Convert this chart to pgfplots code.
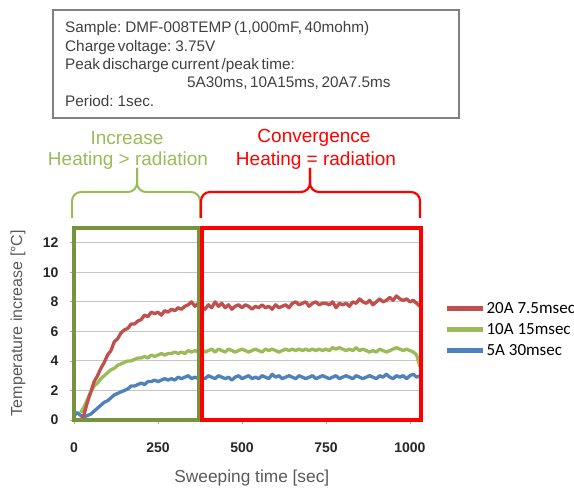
\documentclass[border=0pt]{standalone}
\usepackage{fontspec}
\setmainfont{Liberation Sans}
\newfontfamily\calibri{Carlito}
\newfontfamily\boxfont[WordSpace=0.6]{Liberation Sans}
\usepackage{pgfplots}
\pgfplotsset{compat=1.18}
\definecolor{red20}{HTML}{C0504D}
\definecolor{green10}{HTML}{9BBB59}
\definecolor{blue5}{HTML}{4F81BD}
\definecolor{olive}{HTML}{77933C}
\definecolor{txtgray}{HTML}{404040}
\definecolor{lblgray}{HTML}{595959}
\begin{document}
\begin{tikzpicture}
\useasboundingbox (0,0) rectangle (574pt,492pt);
% info box
\draw[draw=gray, line width=1.2pt] (53pt,374pt) rectangle (459pt,482pt);
\begin{scope}[every node/.style={anchor=base west, inner sep=0pt, text=txtgray, font=\boxfont\fontsize{15.3}{16}\selectfont}]
\node at (65pt,459pt) {Sample: DMF-008TEMP (1,000mF, 40mohm)};
\node at (65pt,440pt) {Charge voltage: 3.75V};
\node at (65pt,422pt) {Peak discharge current /peak time:};
\node at (187pt,404pt) {5A30ms, 10A15ms, 20A7.5ms};
\node at (65pt,385pt) {Period: 1sec.};
\end{scope}
% bracket labels
\begin{scope}[every node/.style={anchor=center, inner sep=0pt, font=\fontsize{19}{20}\selectfont}]
\node[text=green10] at (127pt,354pt) {Increase};
\node[text=green10] at (128pt,331pt) {Heating > radiation};
\node[text=red] at (314pt,354pt) {Convergence};
\node[text=red] at (316pt,331pt) {Heating = radiation};
\end{scope}
% brackets
\draw[green10, line width=2pt, rounded corners=9pt] (72pt,274pt) -- (72pt,300pt) -- (137pt,300pt) -- (137pt,324pt);
\draw[green10, line width=2pt, rounded corners=9pt] (200pt,274pt) -- (200pt,300pt) -- (137pt,300pt) -- (137pt,324pt);
\draw[red, line width=2.2pt, rounded corners=9pt] (201pt,274pt) -- (201pt,300pt) -- (310pt,300pt) -- (310pt,324pt);
\draw[red, line width=2.2pt, rounded corners=9pt] (420pt,274pt) -- (420pt,300pt) -- (310pt,300pt) -- (310pt,324pt);
\begin{axis}[
  at={(74pt,72pt)}, anchor=south west,
  scale only axis, width=346pt, height=192pt,
  xmin=0, xmax=1030, ymin=0, ymax=13,
  axis lines*=left,
  axis line style={gray!70, line width=0.8pt},
  xtick={0,250,500,750,1000}, xticklabels={0,250,500,750,1000},
  ytick={0,2,4,6,8,10,12},
  tick align=outside, major tick length=4pt,
  tick style={gray!70, line width=0.8pt},
  ymajorgrids, grid style={gray!45, line width=1pt},
  ticklabel style={font=\fontsize{14}{14}\selectfont\bfseries, text=black!85},
  /pgf/number format/assume math mode=true,
  xticklabel style={yshift=-15pt},
  yticklabel style={xshift=-8pt},
  xlabel={Sweeping time [sec]},
  ylabel={Temperature increase [\textdegree C]},
  xlabel style={at={(axis description cs:0.514,-0.302)}, anchor=center, font=\fontsize{17.3}{17}\selectfont, text=lblgray},
  ylabel style={at={(axis description cs:-0.162,0.505)}, anchor=center, font=\fontsize{16}{16}\selectfont, text=lblgray},
  clip=false,
  legend cell align=left,
  legend style={draw=none, fill=none, at={(axis description cs:1.072,0.625)}, anchor=north west,
    font=\calibri\fontsize{17}{18}\selectfont, row sep=4pt, inner sep=0pt,
    nodes={inner sep=1pt, text height=12pt, text depth=3pt}},
  legend image code/.code={\draw[line width=4.5pt] (0pt,0pt) -- (36pt,0pt);},
  reverse legend,
  every axis plot/.append style={line width=3.3pt, line join=round},
]
\addplot[blue5] coordinates {
(0,0.3)(10,0.5)(20,0.3)(30,0.2)(40,0.3)(50,0.4)(60,0.6)(70,0.8)(80,1.0)(90,1.2)
(100,1.3)(110,1.5)(120,1.7)(130,1.8)(140,1.9)(150,2.0)(160,2.1)(170,2.3)(180,2.3)(190,2.4)
(200,2.5)(210,2.4)(220,2.6)(230,2.6)(240,2.7)(250,2.6)(260,2.7)(270,2.8)(280,2.7)(290,2.8)
(300,2.7)(310,2.9)(320,2.8)(330,2.9)(340,3.0)(350,2.8)(360,2.9)(370,2.8)(380,2.9)(390,2.8)
(400,3.0)(410,2.9)(420,2.8)(430,3.0)(440,2.9)(450,2.8)(460,2.9)(470,2.7)(480,2.9)(490,3.0)
(500,2.8)(510,2.9)(520,3.0)(530,2.8)(540,2.9)(550,2.8)(560,3.0)(570,2.9)(580,2.8)(590,3.1)
(600,2.9)(610,3.0)(620,2.8)(630,2.9)(640,3.0)(650,2.9)(660,2.8)(670,3.0)(680,2.9)(690,2.8)
(700,2.9)(710,3.0)(720,2.8)(730,2.9)(740,3.0)(750,2.9)(760,2.8)(770,2.9)(780,3.0)(790,2.8)
(800,2.9)(810,3.0)(820,2.9)(830,2.8)(840,3.0)(850,2.9)(860,2.8)(870,2.9)(880,3.0)(890,2.9)
(900,2.8)(910,3.0)(920,2.9)(930,3.1)(940,2.9)(950,2.8)(960,3.0)(970,2.9)(980,3.0)(990,2.8)
(1000,3.0)(1010,3.1)(1020,2.9)(1030,3.0)
};
\addlegendentry{5A 30msec}
\addplot[green10] coordinates {
(20,0.5)(30,0.9)(40,1.4)(50,1.9)(60,2.3)(70,2.5)(80,2.8)(90,3.0)
(100,3.2)(110,3.4)(120,3.5)(130,3.7)(140,3.8)(150,3.9)(160,4.0)(170,4.0)(180,4.1)(190,4.2)
(200,4.2)(210,4.3)(220,4.2)(230,4.4)(240,4.3)(250,4.4)(260,4.5)(270,4.4)(280,4.5)(290,4.5)
(300,4.6)(310,4.5)(320,4.6)(330,4.5)(340,4.7)(350,4.6)(360,4.7)(370,4.6)(380,4.8)(390,4.6)
(400,4.7)(410,4.8)(420,4.6)(430,4.8)(440,4.7)(450,4.6)(460,4.8)(470,4.7)(480,4.6)(490,4.7)
(500,4.8)(510,4.7)(520,4.6)(530,4.7)(540,4.8)(550,4.7)(560,4.6)(570,4.8)(580,4.7)(590,4.8)
(600,4.7)(610,4.6)(620,4.7)(630,4.8)(640,4.7)(650,4.8)(660,4.7)(670,4.8)(680,4.7)(690,4.8)
(700,4.7)(710,4.8)(720,4.7)(730,4.8)(740,4.7)(750,4.8)(760,4.7)(770,4.9)(780,4.8)(790,4.9)
(800,4.8)(810,4.7)(820,4.8)(830,4.7)(840,4.9)(850,4.7)(860,4.8)(870,4.7)(880,4.6)(890,4.7)
(900,4.6)(910,4.8)(920,4.7)(930,4.6)(940,4.7)(950,4.8)(960,4.9)(970,4.8)(980,4.7)(990,4.8)
(1000,4.7)(1010,4.6)(1020,4.4)(1030,3.6)
};
\addlegendentry{10A 15msec}
\addplot[red20] coordinates {
(20,-0.1)(30,0.4)(40,1.2)(50,1.9)(60,2.6)(70,3.0)(80,3.5)(90,3.9)
(100,4.4)(110,4.7)(120,5.3)(130,5.5)(140,5.9)(150,6.1)(160,6.2)(170,6.5)(180,6.5)(190,6.7)
(200,6.8)(210,7.1)(220,7.0)(230,7.3)(240,7.2)(250,7.3)(260,7.1)(270,7.4)(280,7.3)(290,7.5)
(300,7.4)(310,7.6)(320,7.5)(330,7.7)(340,7.8)(350,8.0)(360,7.7)(370,7.9)(380,7.7)(390,7.5)
(400,7.8)(410,7.6)(420,8.0)(430,7.7)(440,7.9)(450,7.6)(460,7.8)(470,7.5)(480,7.7)(490,7.8)
(500,7.6)(510,7.8)(520,7.7)(530,7.5)(540,7.7)(550,7.6)(560,7.8)(570,7.6)(580,7.7)(590,7.5)
(600,7.8)(610,7.6)(620,7.7)(630,7.8)(640,7.6)(650,7.9)(660,8.0)(670,7.8)(680,7.9)(690,8.0)
(700,7.7)(710,7.9)(720,8.0)(730,7.8)(740,7.9)(750,7.9)(760,7.8)(770,8.0)(780,7.6)(790,7.9)
(800,7.8)(810,7.9)(820,7.7)(830,8.0)(840,7.9)(850,8.2)(860,8.0)(870,7.9)(880,8.1)(890,7.8)
(900,8.0)(910,8.2)(920,8.0)(930,8.1)(940,8.3)(950,8.1)(960,8.4)(970,8.2)(980,8.1)(990,8.2)
(1000,8.0)(1010,8.1)(1020,7.9)(1030,7.7)
};
\addlegendentry{20A 7.5msec}
\draw[olive, line width=3.5pt] (axis cs:0,0) rectangle (axis cs:372,13);
\draw[red, line width=3.5pt] (axis cs:381,0) rectangle (axis cs:1033,13);
\end{axis}
\end{tikzpicture}
\end{document}
